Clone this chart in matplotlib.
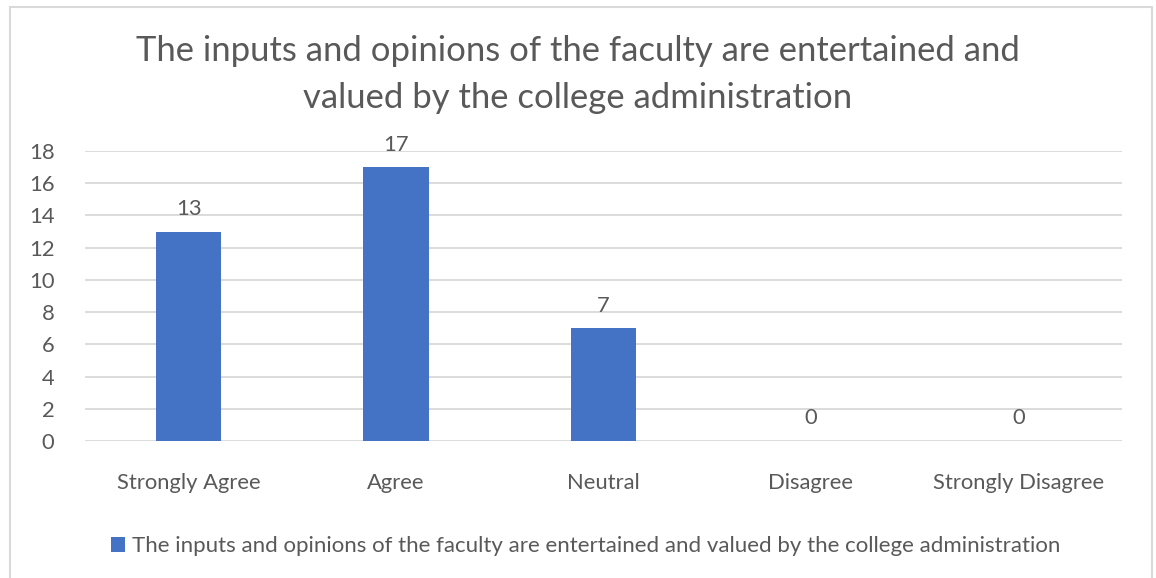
import matplotlib
matplotlib.use("Agg")
import matplotlib.pyplot as plt
from matplotlib.patches import Rectangle

categories = ["Strongly Agree", "Agree", "Neutral", "Disagree", "Strongly Disagree"]
values = [13, 17, 7, 0, 0]
series_name = "The inputs and opinions of the faculty are entertained and valued by the college administration"
title_lines = ["The inputs and opinions of the faculty are entertained and",
               "valued by the college administration"]
yticks = [0, 2, 4, 6, 8, 10, 12, 14, 16, 18]

plt.rcParams['font.family'] = ['Lato', 'DejaVu Sans']
GRAY = '#595959'
BLUE = '#4472C4'
GRID = '#D9D9D9'
FS = 15.8

W, H = 1156, 578
fig = plt.figure(figsize=(W / 100, H / 100), dpi=100)
fig.patch.set_facecolor('white')

# chart border
fig.patches.append(Rectangle((10 / W, -0.01), (1152 - 10) / W, (H - 7) / H + 0.01,
                             transform=fig.transFigure, fill=False,
                             edgecolor=GRID, linewidth=1.5))

ax = fig.add_axes([85 / W, 1 - 441 / H, (1122 - 85) / W, (441 - 151) / H])
x = list(range(len(categories)))
bars = ax.bar(x, values, width=0.315, color=BLUE, zorder=3, label=series_name)
ax.set_xlim(-0.5, len(categories) - 0.5)
ax.set_ylim(0, 18)
ax.set_yticks(yticks)
ax.set_yticklabels([str(t) for t in yticks])
ax.set_xticks(x)
ax.set_xticklabels(categories)
ax.grid(axis='y', color=GRID, linewidth=1.3, zorder=0)
for s in ax.spines.values():
    s.set_visible(False)
ax.tick_params(axis='both', length=0, labelsize=FS, labelcolor=GRAY)
ax.tick_params(axis='y', pad=22)
ax.tick_params(axis='x', pad=23)

for xi, v in zip(x, values):
    ax.annotate(str(v), (xi, v), xytext=(0, 9), textcoords='offset points',
                ha='center', va='bottom', fontsize=FS, color=GRAY)

fig.text(0.5, 1 - 51 / H, title_lines[0], ha='center', va='center', fontsize=24.9, color=GRAY)
fig.text(0.5, 1 - 98 / H, title_lines[1], ha='center', va='center', fontsize=24.9, color=GRAY)

leg = fig.legend(handles=[bars], labels=[series_name], loc='center',
                 bbox_to_anchor=(0.5065, 1 - 546 / H), frameon=False,
                 fontsize=16.0, handlelength=0.65, handleheight=0.65, handletextpad=0.3)
for t in leg.get_texts():
    t.set_color(GRAY)

fig.savefig('out.png', dpi=100)
